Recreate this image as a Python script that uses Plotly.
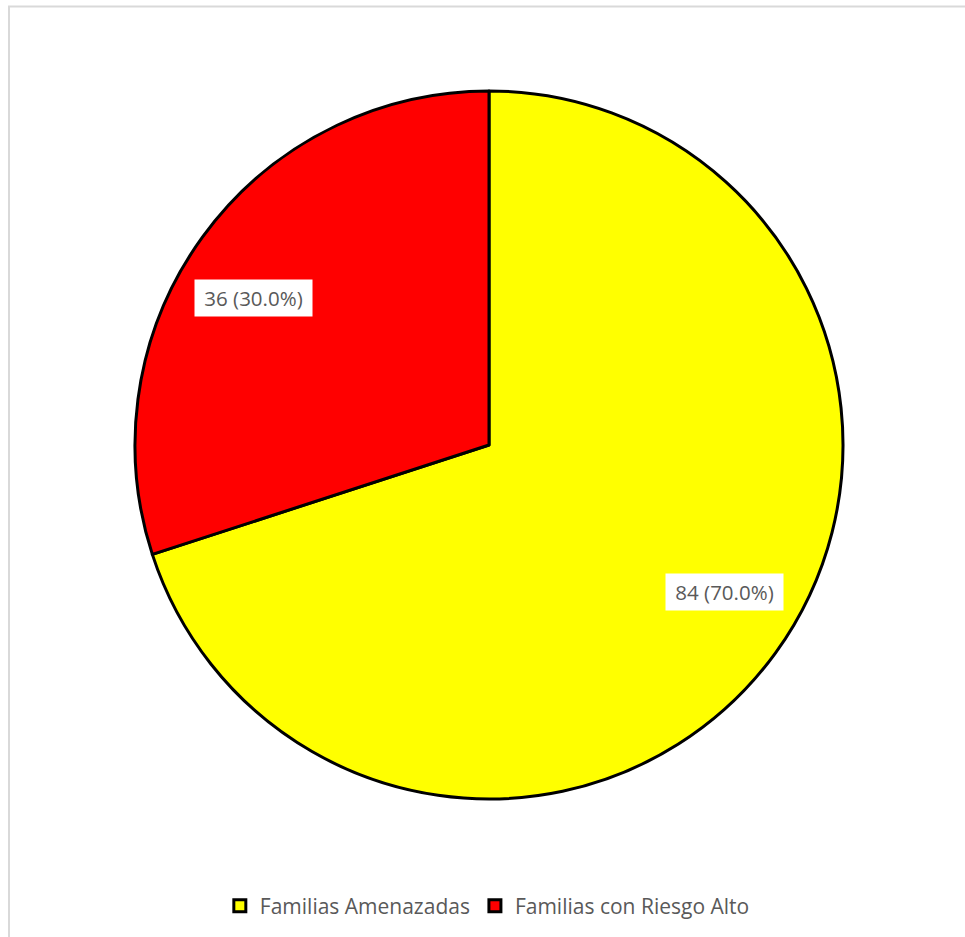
import math
import plotly.graph_objects as go

# Data
labels = ["Familias Amenazadas", "Familias con Riesgo Alto"]
values = [84, 36]
colors = ["#FFFF00", "#FF0000"]

W, H = 965, 937
cx, cy, r = 489, 445, 354  # pie centre and radius in pixels

family = "Open Sans, Liberation Sans, sans-serif"
label_font = dict(family=family, size=20.5, color="#595959")
legend_font = dict(family=family, size=21, color="#595959")

fig = go.Figure(
    go.Pie(
        labels=labels,
        values=values,
        marker=dict(colors=colors, line=dict(color="#000000", width=3)),
        sort=False,
        direction="clockwise",
        rotation=0,
        textinfo="none",
        hoverinfo="label+value+percent",
        domain=dict(x=[(cx - r) / W, (cx + r) / W], y=[1 - (cy + r) / H, 1 - (cy - r) / H]),
    )
)

# Data labels "value (pct%)" in white boxes, placed along each slice bisector
total = sum(values)
annotations = []
start = 0.0
for v in values:
    frac = v / total
    mid = (start + frac / 2) * 360 - 4  # degrees clockwise from 12 o'clock
    start += frac
    rad = math.radians(mid)
    px = cx + 0.785 * r * math.sin(rad)
    py = cy - 0.785 * r * math.cos(rad)
    annotations.append(dict(
        x=px / W, y=1 - py / H, xref="paper", yref="paper",
        text=f" {v} ({frac * 100:.1f}%) ", showarrow=False,
        font=label_font, bgcolor="#FFFFFF", borderpad=4,
        xanchor="center", yanchor="middle",
    ))

fig.update_layout(
    width=W, height=H,
    margin=dict(l=0, r=0, t=0, b=0),
    paper_bgcolor="#FFFFFF",
    plot_bgcolor="#FFFFFF",
    showlegend=True,
    legend=dict(
        orientation="h", x=0.505, xanchor="center", y=1 - 906 / H, yanchor="middle",
        font=legend_font, itemclick=False, traceorder="normal",
    ),
    annotations=annotations,
    shapes=[dict(
        type="rect", xref="paper", yref="paper",
        x0=9 / W, y0=-0.05, x1=1.05, y1=1 - 6.5 / H,
        line=dict(color="#D9D9D9", width=2), fillcolor="rgba(0,0,0,0)", layer="below",
    )],
)

fig.write_html("out.html")
